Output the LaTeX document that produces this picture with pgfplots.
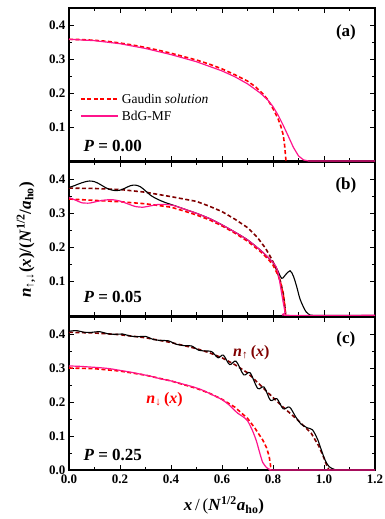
\documentclass[border=0pt]{standalone}
\usepackage{fontspec}
\setmainfont{Liberation Serif}
\usepackage{pgfplots}
\pgfplotsset{compat=1.18}
\definecolor{pinkc}{RGB}{255,20,140}
\definecolor{dred}{RGB}{128,0,0}
\definecolor{bred}{RGB}{255,0,0}
\pgfplotsset{
  panel/.style={
    width=306pt, height=153pt, scale only axis, anchor=south west,
    xmin=0, xmax=1.2, ymin=0, ymax=0.45,
    xtick={0,0.2,0.4,0.6,0.8,1.0,1.2}, minor x tick num=1,
    minor y tick num=1,
    tick align=inside, tick pos=both,
    major tick length=5pt, minor tick length=3pt,
    every tick/.style={black, line width=0.8pt},
    axis line style={line width=1.1pt},
    clip=false,
    tick label style={font=\fontsize{13}{13}\selectfont\bfseries},
    xticklabel style={yshift=-1.5pt},
    /pgf/number format/.cd, fixed, fixed zerofill, precision=1, assume math mode=true,
  },
  gsol/.style={color=bred, line width=1.6pt, dash pattern=on 4pt off 2.5pt},
  gup/.style={color=dred, line width=1.6pt, dash pattern=on 4pt off 2.5pt},
  bdgdn/.style={color=pinkc, line width=1.2pt, solid},
  bdgup/.style={color=black, line width=1.1pt, solid},
}
\begin{document}
\begin{tikzpicture}
\path[use as bounding box] (0,0) rectangle (385pt,-519pt);
% ---------- panel (a)
\begin{axis}[panel, at={(69pt,-161pt)},
  ytick={0.1,0.2,0.3,0.4}, xticklabels={}]
\addplot[gsol] table {
0 0.358
0.05 0.357
0.1 0.355
0.15 0.352
0.2 0.347
0.25 0.341
0.3 0.334
0.35 0.326
0.4 0.317
0.45 0.307
0.5 0.297
0.55 0.285
0.6 0.271
0.65 0.254
0.7 0.235
0.73 0.219
0.76 0.198
0.78 0.180
0.80 0.154
0.82 0.124
0.83 0.104
0.84 0.077
0.845 0.050
0.848 0.025
0.851 0
};
\addplot[bdgdn] table {
0 0.358
0.1 0.354
0.2 0.345
0.3 0.331
0.4 0.313
0.5 0.292
0.6 0.265
0.65 0.248
0.7 0.227
0.75 0.200
0.78 0.179
0.80 0.160
0.82 0.135
0.84 0.105
0.86 0.073
0.88 0.040
0.90 0.015
0.92 0.003
0.94 0
1.2 0
};
% legend
\draw[bred, line width=1.6pt, dash pattern=on 4pt off 2.5pt] (rel axis cs:0.039,0.407) -- (rel axis cs:0.160,0.407);
\node[anchor=base west, inner sep=0pt, font=\fontsize{13.5}{13.5}\selectfont] at (rel axis cs:0.172,0.378) {Gaudin \textit{solution}};
\draw[pinkc, line width=1.2pt] (rel axis cs:0.039,0.294) -- (rel axis cs:0.160,0.294);
\node[anchor=base west, inner sep=0pt, font=\fontsize{13.5}{13.5}\selectfont] at (rel axis cs:0.172,0.265) {BdG-MF};
\node[anchor=base west, font=\fontsize{17}{17}\selectfont\bfseries] at (rel axis cs:0.036,0.065) {\textit{P} = 0.00};
\node[font=\fontsize{17}{17}\selectfont\bfseries] at (rel axis cs:0.905,0.84) {(a)};
\end{axis}
% ---------- panel (b)
\begin{axis}[panel, at={(69pt,-315.3pt)},
  ytick={0.1,0.2,0.3,0.4}, xticklabels={}]
\addplot[gup] table {
0 0.374
0.1 0.373
0.2 0.370
0.3 0.362
0.4 0.349
0.45 0.342
0.5 0.335
0.55 0.321
0.6 0.305
0.65 0.283
0.7 0.258
0.74 0.228
0.77 0.198
0.79 0.172
0.81 0.142
0.83 0.098
0.84 0.065
0.846 0.030
0.85 0
};
\addplot[gsol] table {
0 0.342
0.1 0.338
0.2 0.334
0.3 0.328
0.4 0.318
0.45 0.307
0.5 0.295
0.55 0.281
0.6 0.263
0.65 0.242
0.7 0.218
0.75 0.188
0.78 0.166
0.80 0.148
0.82 0.118
0.83 0.095
0.84 0.063
0.845 0.035
0.848 0.010
0.85 0
};
\addplot[bdgup, smooth, tension=0.5] table {
0 0.376
0.02 0.381
0.04 0.387
0.06 0.392
0.08 0.395
0.10 0.393
0.12 0.386
0.14 0.377
0.16 0.370
0.18 0.367
0.20 0.368
0.22 0.374
0.24 0.381
0.26 0.383
0.28 0.378
0.30 0.366
0.32 0.353
0.34 0.344
0.36 0.337
0.38 0.331
0.40 0.326
0.42 0.321
0.45 0.313
0.50 0.300
0.55 0.285
0.60 0.266
0.65 0.245
0.70 0.222
0.75 0.192
0.78 0.171
0.80 0.155
0.815 0.137
0.834 0.109
0.85 0.120
0.867 0.131
0.88 0.115
0.893 0.084
0.905 0.050
0.919 0.025
0.93 0.010
0.945 0.001
0.96 0
1.2 0
};
\addplot[bdgdn, smooth, tension=0.4] table {
0 0.346
0.025 0.339
0.05 0.331
0.08 0.330
0.11 0.335
0.14 0.339
0.17 0.340
0.20 0.336
0.23 0.328
0.26 0.320
0.29 0.318
0.32 0.322
0.35 0.326
0.38 0.326
0.41 0.323
0.45 0.313
0.50 0.300
0.55 0.285
0.60 0.266
0.65 0.245
0.70 0.222
0.75 0.192
0.78 0.171
0.80 0.155
0.81 0.146
0.82 0.125
0.83 0.082
0.84 0.038
0.848 0.008
0.855 0
1.2 0
};
\node[anchor=base west, font=\fontsize{17}{17}\selectfont\bfseries] at (rel axis cs:0.036,0.085) {\textit{P} = 0.05};
\node[font=\fontsize{17}{17}\selectfont\bfseries] at (rel axis cs:0.905,0.848) {(b)};
\end{axis}
% ---------- panel (c)
\begin{axis}[panel, at={(69pt,-470pt)},
  ytick={0,0.1,0.2,0.3,0.4}]
\addplot[gup] table {
0 0.405
0.1 0.403
0.2 0.398
0.3 0.389
0.4 0.375
0.5 0.357
0.55 0.345
0.6 0.330
0.65 0.310
0.7 0.286
0.75 0.250
0.8 0.213
0.85 0.178
0.9 0.145
0.95 0.108
0.98 0.070
1.0 0.035
1.01 0.015
1.02 0
};
\addplot[gsol] table {
0 0.300
0.1 0.298
0.2 0.291
0.3 0.279
0.4 0.262
0.5 0.240
0.55 0.226
0.6 0.208
0.65 0.185
0.7 0.152
0.73 0.122
0.76 0.088
0.775 0.065
0.785 0.040
0.79 0.015
0.792 0
};
\addplot[bdgup, smooth, tension=0.5] table {
0 0.408
0.03 0.410
0.06 0.405
0.09 0.405
0.12 0.407
0.15 0.401
0.18 0.399
0.21 0.400
0.24 0.394
0.27 0.392
0.30 0.393
0.33 0.384
0.36 0.381
0.39 0.380
0.42 0.370
0.45 0.366
0.48 0.365
0.51 0.352
0.54 0.350
0.56 0.348
0.585 0.330
0.605 0.338
0.63 0.310
0.655 0.320
0.685 0.280
0.71 0.286
0.74 0.240
0.765 0.244
0.79 0.205
0.815 0.210
0.84 0.180
0.865 0.185
0.89 0.155
0.91 0.135
0.935 0.124
0.955 0.118
0.975 0.090
0.99 0.058
1.005 0.028
1.02 0.010
1.04 0.002
1.06 0
1.2 0
};
\addplot[bdgdn, smooth, tension=0.4] table {
0 0.306
0.04 0.305
0.08 0.303
0.12 0.301
0.16 0.298
0.20 0.293
0.24 0.288
0.28 0.282
0.32 0.276
0.36 0.268
0.40 0.262
0.44 0.254
0.48 0.246
0.52 0.236
0.56 0.222
0.60 0.207
0.63 0.190
0.66 0.168
0.68 0.158
0.70 0.145
0.72 0.115
0.735 0.085
0.75 0.045
0.76 0.022
0.775 0.007
0.79 0.001
0.81 0
1.2 0
};
\node[anchor=base west, font=\fontsize{16}{16}\selectfont\bfseries, text=dred] at (axis cs:0.63,0.335) {\textit{n}\textsubscript{↑}\,(\textit{x})};
\node[anchor=base west, font=\fontsize{16}{16}\selectfont\bfseries, text=bred] at (axis cs:0.29,0.197) {\textit{n}\textsubscript{↓}\,(\textit{x})};
\node[anchor=base west, font=\fontsize{17}{17}\selectfont\bfseries] at (rel axis cs:0.036,0.065) {\textit{P} = 0.25};
\node[font=\fontsize{17}{17}\selectfont\bfseries] at (rel axis cs:0.905,0.856) {(c)};
\end{axis}
\node[anchor=base, font=\fontsize{17}{17}\selectfont\bfseries] at (224pt,-510.5pt) {\textit{x}\,\mdseries/\,(\bfseries\textit{N}\textsuperscript{1/2}\textit{a}\textsubscript{ho})};
\node[rotate=90, font=\fontsize{17}{17}\selectfont\bfseries] at (26pt,-240pt) {\textit{n}\textsubscript{↑,↓}(\textit{x})/(\textit{N}\textsuperscript{1/2}/\textit{a}\textsubscript{ho})};
\end{tikzpicture}
\end{document}
